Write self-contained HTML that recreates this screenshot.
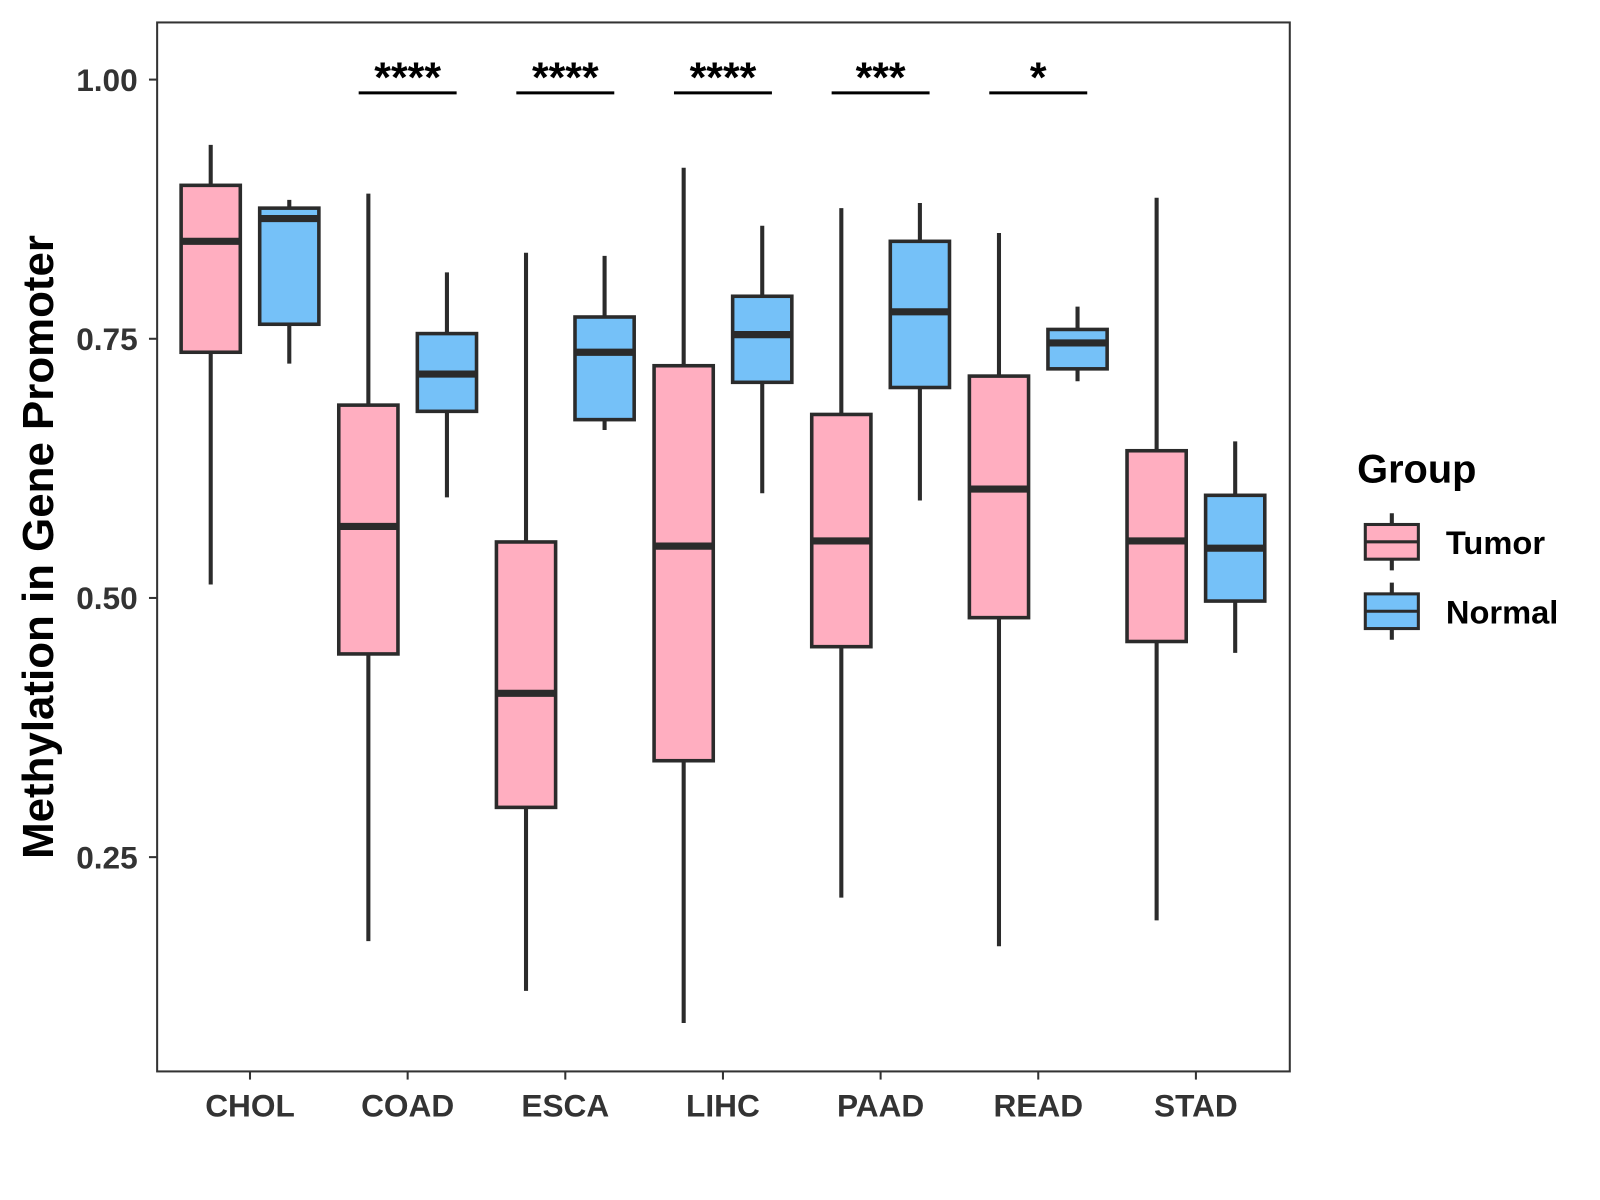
<!DOCTYPE html>
<html><head><meta charset="utf-8">
<style>
html,body{margin:0;padding:0;background:#fff;}
svg{display:block;font-family:"Liberation Sans",Arial,sans-serif;}
</style></head>
<body>
<svg id="chart" width="1600" height="1200" viewBox="0 0 1600 1200" xmlns="http://www.w3.org/2000/svg">
<rect x="0" y="0" width="1600" height="1200" fill="#fff"/>
<g transform="scale(1.0204)">
<g id="marks"></g>
<rect x="154" y="22" width="1110" height="1028" fill="none" stroke="#333" stroke-width="2"/>
<g id="axes"></g>
<text transform="translate(52,536) rotate(-90)" text-anchor="middle" font-size="43" font-weight="bold" fill="#000">Methylation in Gene Promoter</text>
<g>
<text x="1330" y="473" font-size="39" font-weight="bold" fill="#000">Group</text>
<g>
<line x1="1364" y1="503" x2="1364" y2="559" stroke="#2b2b2b" stroke-width="4"/>
<rect x="1338" y="514" width="52" height="34" fill="#FFAEC0" stroke="#2b2b2b" stroke-width="3"/>
<line x1="1338" y1="531" x2="1390" y2="531" stroke="#2b2b2b" stroke-width="3"/>
<text x="1417" y="543" font-size="32" font-weight="bold" fill="#000">Tumor</text>
</g>
<g>
<line x1="1364" y1="571" x2="1364" y2="627" stroke="#2b2b2b" stroke-width="4"/>
<rect x="1338" y="582" width="52" height="34" fill="#75C1F8" stroke="#2b2b2b" stroke-width="3"/>
<line x1="1338" y1="599" x2="1390" y2="599" stroke="#2b2b2b" stroke-width="3"/>
<text x="1417" y="611" font-size="32" font-weight="bold" fill="#000">Normal</text>
</g>
</g>
</g>
</svg>
<script>
const categories = ["CHOL","COAD","ESCA","LIHC","PAAD","READ","STAD"];
// [low, q1, median, q3, high]
const tumorStats = [
  [0.513,0.737,0.844,0.898,0.937],
  [0.169,0.446,0.569,0.686,0.890],
  [0.121,0.298,0.408,0.554,0.833],
  [0.090,0.343,0.550,0.724,0.915],
  [0.211,0.453,0.555,0.677,0.876],
  [0.164,0.481,0.605,0.714,0.852],
  [0.189,0.458,0.555,0.642,0.886]
];
const normalStats = [
  [0.726,0.764,0.866,0.876,0.884],
  [0.597,0.680,0.716,0.755,0.814],
  [0.662,0.672,0.737,0.771,0.830],
  [0.601,0.708,0.754,0.791,0.859],
  [0.594,0.703,0.776,0.844,0.881],
  [0.709,0.721,0.746,0.759,0.781],
  [0.447,0.497,0.548,0.599,0.651]
];
const signif = ["","****","****","****","***","*",""];
const yTicks = [0.25,0.50,0.75,1.00];
const yTickLabels = ["0.25","0.50","0.75","1.00"];

const NS = "http://www.w3.org/2000/svg";
function yScale(v){ return 78 + (1 - v) * 1016; }
function xScale(i){ return 245 + i * 154.5; }
function mk(tag, attrs, parent){
  const e = document.createElementNS(NS, tag);
  for (const k in attrs) e.setAttribute(k, attrs[k]);
  parent.appendChild(e);
  return e;
}
const marks = document.getElementById("marks");
const axes = document.getElementById("axes");
const halfW = 29, off = 38.5;

function drawBox(s, cx, fill, name){
  const g = mk("g", {}, marks);
  
  
  mk("line", {x1:cx, x2:cx, y1:yScale(s[4]), y2:yScale(s[0]), stroke:"#2b2b2b", "stroke-width":4}, g);
  mk("rect", {x:cx-halfW, y:yScale(s[3]), width:halfW*2, height:yScale(s[1])-yScale(s[3]), fill:fill, stroke:"#2b2b2b", "stroke-width":3.5}, g);
  mk("line", {x1:cx-halfW, x2:cx+halfW, y1:yScale(s[2]), y2:yScale(s[2]), stroke:"#2b2b2b", "stroke-width":7}, g);
}

categories.forEach((c, i) => {
  const cx = xScale(i);
  drawBox(tumorStats[i], cx - off, "#FFAEC0", "box-tumor-" + c.toLowerCase());
  drawBox(normalStats[i], cx + off, "#75C1F8", "box-normal-" + c.toLowerCase());
  if (signif[i]) {
    const sl = mk("line", {x1:cx-48, x2:cx+48, y1:91, y2:91, stroke:"#000", "stroke-width":3}, marks);
    
    
    const st = mk("text", {x:cx, y:90, "text-anchor":"middle", "font-size":42, "font-weight":"bold", fill:"#000"}, marks);
    st.textContent = signif[i];
    
    
  }
  const tk = mk("line", {x1:cx, x2:cx, y1:1050, y2:1058, stroke:"#333", "stroke-width":2}, axes);
  
  
  const tl = mk("text", {x:cx, y:1094, "text-anchor":"middle", "font-size":31, "font-weight":"bold", fill:"#333"}, axes);
  tl.textContent = c;
  
  
});

yTicks.forEach((v, i) => {
  const y = yScale(v);
  const tk = mk("line", {x1:146, x2:154, y1:y, y2:y, stroke:"#333", "stroke-width":2}, axes);
  
  
  const tl = mk("text", {x:135, y:y+11, "text-anchor":"end", "font-size":31, "font-weight":"bold", fill:"#333"}, axes);
  tl.textContent = yTickLabels[i];
  
  
});
</script>
</body></html>
